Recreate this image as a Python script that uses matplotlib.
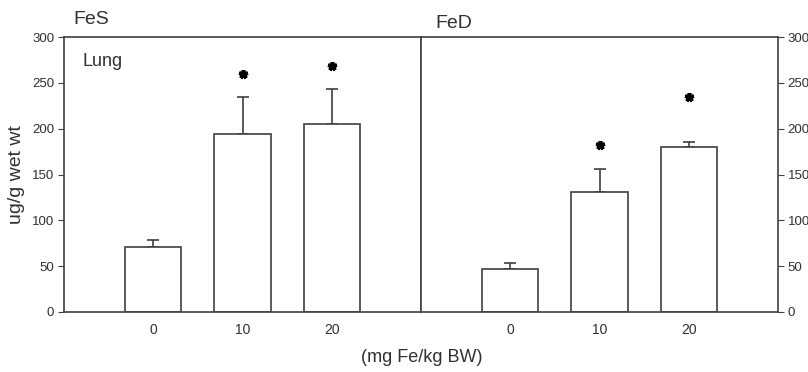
import matplotlib
matplotlib.use("Agg")
import matplotlib.pyplot as plt

# lung iron content, ug/g wet wt
doses = ["0", "10", "20"]
fes_mean = [71, 194, 205]
fes_err = [8, 40, 38]
fes_star = [None, 260, 268]
fed_mean = [46.5, 131, 179.5]
fed_err = [7.5, 25, 5.5]
fed_star = [None, 182, 235]
yticks = [0, 50, 100, 150, 200, 250, 300]

LC = "#404040"
TC = "#303030"
plt.rcParams["font.family"] = ["Liberation Sans", "DejaVu Sans"]

fig = plt.figure(figsize=(8.08, 3.72), dpi=100)
W, H = 808, 372
ax1 = fig.add_axes([64 / W, 60 / H, 357 / W, 275 / H])
ax2 = fig.add_axes([421 / W, 60 / H, 357 / W, 275 / H], sharey=ax1)

xs = [1, 2, 3]
for ax, mean, err, star in ((ax1, fes_mean, fes_err, fes_star),
                            (ax2, fed_mean, fed_err, fed_star)):
    ax.bar(xs, mean, width=0.63, facecolor="white", edgecolor=LC, lw=1.2,
           zorder=2)
    ax.errorbar(xs, mean, yerr=[[0] * 3, err], fmt="none", ecolor=LC,
                elinewidth=1.2, capsize=4.3, capthick=1.2, zorder=1)
    for x, s in zip(xs, star):
        if s is not None:
            ax.plot(x, s, marker=(5, 2, 0), ms=6.5, mew=2.6, color="black",
                    clip_on=False)
    ax.set_xlim(0, 4)
    ax.set_xticks(xs)
    ax.set_xticklabels(doses, fontsize=10, color=TC)
    ax.tick_params(axis="x", length=0, pad=8)
    for sp in ax.spines.values():
        sp.set_color(LC)
        sp.set_linewidth(1.2)

ax1.set_ylim(0, 300)
ax1.set_yticks(yticks)
ax1.tick_params(axis="y", length=4, color=LC, labelsize=9.5,
                labelcolor=TC, pad=3)
ax1.set_ylabel("ug/g wet wt", fontsize=14, color=TC, labelpad=5)
ax2.yaxis.tick_right()
ax2.tick_params(axis="y", length=4, color=LC, labelsize=9.5,
                labelcolor=TC, pad=3)
plt.setp(ax2.get_yticklabels(), visible=True)

fig.text(73 / W, 1 - 20 / H, "FeS", fontsize=14, color=TC, va="center")
fig.text(435 / W, 1 - 23 / H, "FeD", fontsize=14, color=TC, va="center")
fig.text(83 / W, 1 - 62 / H, "Lung", fontsize=13, color=TC, va="center")
fig.text(422 / W, 1 - 357 / H, "(mg Fe/kg BW)", fontsize=13,
         color=TC, ha="center", va="center")

fig.savefig("out.png", dpi=100)
